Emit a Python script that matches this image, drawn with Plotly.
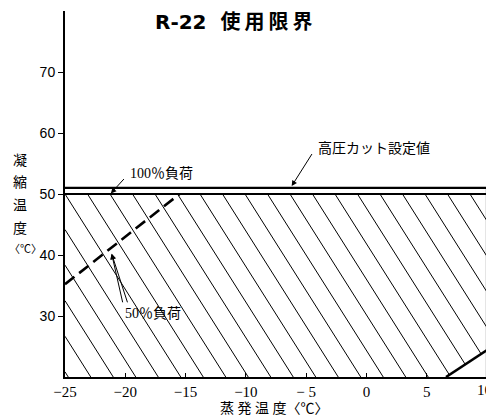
import plotly.graph_objects as go

# axis ranges / ticks
EVAP_RANGE = [-25, 10]
COND_RANGE = [20, 80]
X_TICKS = [-25, -20, -15, -10, -5, 0, 5, 10]
X_TICK_TEXT = ["−25", "−20", "−15", "−10", "− 5", "0", "5", ""]
X_LAST_TICK = "10"   # drawn separately, it sits at the page edge
Y_TICKS = [30, 40, 50, 60, 70]

# limit lines (evaporating temp, condensing temp)
LOAD100_X = [-25, 10]
LOAD100_Y = [50, 50]
HPCUT_X = [-25, 10, 10]
HPCUT_Y = [51, 51, 20]
LOAD50_X = [-25, -15.5]
LOAD50_Y = [35.2, 50]
LOW_X = [6.6, 10]
LOW_Y = [20, 24.4]

# hatch of the usable area
HATCH_STEP = 1.866    # spacing of hatch lines along x
HATCH_SHIFT = 0.32    # x shift per 1 deg drop in y


def hatch_segments():
    top, bot = LOAD100_Y[0], COND_RANGE[0]
    xl, xr = EVAP_RANGE
    b = (LOW_Y[1] - LOW_Y[0]) / (LOW_X[1] - LOW_X[0])
    s = HATCH_SHIFT
    xs, ys = [], []
    k = -8
    while True:
        a = xl + k * HATCH_STEP
        k += 1
        if a > xr:
            break
        y_hi = min(top, top + (a - xl) / s)
        y_lo = max(bot, top - (xr - a) / s,
                   (LOW_Y[0] + b * (a + top * s - LOW_X[0])) / (1 + b * s))
        if y_hi <= y_lo:
            continue
        for yy in (y_hi, y_lo):
            xs.append(a + (top - yy) * s)
            ys.append(yy)
        xs.append(None)
        ys.append(None)
    return xs, ys


fig = go.Figure()
hx, hy = hatch_segments()
fig.add_trace(go.Scatter(x=hx, y=hy, mode="lines",
                         line=dict(color="black", width=1)))
fig.add_trace(go.Scatter(x=LOAD100_X, y=LOAD100_Y, mode="lines",
                         line=dict(color="black", width=2.2)))
fig.add_trace(go.Scatter(x=HPCUT_X, y=HPCUT_Y, mode="lines",
                         line=dict(color="black", width=2.2)))
fig.add_trace(go.Scatter(x=LOAD50_X, y=LOAD50_Y, mode="lines",
                         line=dict(color="black", width=2.6, dash="12px,6px")))
fig.add_trace(go.Scatter(x=LOW_X, y=LOW_Y, mode="lines",
                         line=dict(color="black", width=2.6)))

jp = "DejaVu Sans, Noto Sans CJK JP"
serif = "Liberation Serif, Noto Sans CJK JP"
th = "\u2009"

ann = [
    dict(x=-11.0, y=78.2,
         text="<b>R-22  " + th.join("使用限界") + "</b>",
         font=dict(family=jp, size=20)),
    dict(x=0.62, y=57.6, text="高圧カット設定値", font=dict(family=serif, size=14)),
    dict(x=-17.0, y=53.3, text="100％負荷", font=dict(family=serif, size=14)),
    dict(x=-17.7, y=30.4, text="50％負荷", font=dict(family=serif, size=14)),
    # arrows
    dict(x=-6.2, y=51.3, ax=-4.44, ay=56.8, text=""),
    dict(x=-21.2, y=50.1, ax=-20.0, ay=52.7, text=""),
    dict(x=-21.13, y=40.2, ax=-20.19, ay=32.0, text=""),
    dict(x=-21.13, y=40.2, ax=-19.78, ay=32.0, text=""),
]
for a in ann:
    a.setdefault("showarrow", "ax" in a)
    if a["showarrow"]:
        a.update(axref="x", ayref="y", arrowhead=2, arrowsize=1.1,
                 arrowwidth=1, arrowcolor="black")
    fig.add_annotation(xref="x", yref="y", **a)

# last x tick label, right-aligned so it stays inside the page
fig.add_annotation(xref="x", yref="paper", x=EVAP_RANGE[1], y=-0.036,
                   text=X_LAST_TICK, xanchor="right", yanchor="middle",
                   xshift=7, showarrow=False,
                   font=dict(family="Liberation Serif", size=15))

# y axis title, one character per line
for ch, yy, fs, xp in zip(["凝", "縮", "温", "度", "〈℃〉"],
                          [55.5, 51.9, 48.1, 44.3, 41.0],
                          [14, 14, 14, 14, 11],
                          [20, 20, 20, 20, 25]):
    fig.add_annotation(xref="paper", yref="y", x=(xp - 65) / 422, y=yy, text=ch,
                       xanchor="center", yanchor="middle",
                       showarrow=False, font=dict(family=serif, size=fs))
fig.add_annotation(xref="x", yref="paper", x=-7.6, y=-0.085,
                   xanchor="center", yanchor="middle",
                   text="蒸 発 温 度〈℃〉", showarrow=False,
                   font=dict(family=serif, size=14))

# the page body adds an 8px offset
fig.update_layout(
    width=494, height=410,
    margin=dict(l=57, r=15, t=3, b=41),
    plot_bgcolor="white", paper_bgcolor="white",
    showlegend=False,
    font=dict(color="black"),
)
fig.update_xaxes(range=EVAP_RANGE, tickvals=X_TICKS, ticktext=X_TICK_TEXT,
                 automargin=False,
                 showgrid=False, zeroline=False, showline=True,
                 linecolor="black", linewidth=2, ticks="inside", ticklen=4,
                 tickcolor="black", tickfont=dict(family="Liberation Serif", size=15))
fig.update_yaxes(range=COND_RANGE, tickvals=Y_TICKS, automargin=False,
                 showgrid=False, zeroline=False, showline=True,
                 linecolor="black", linewidth=2, ticks="outside", ticklen=5,
                 tickcolor="black", tickfont=dict(family="Liberation Sans", size=14))

fig.write_html("out.html")
